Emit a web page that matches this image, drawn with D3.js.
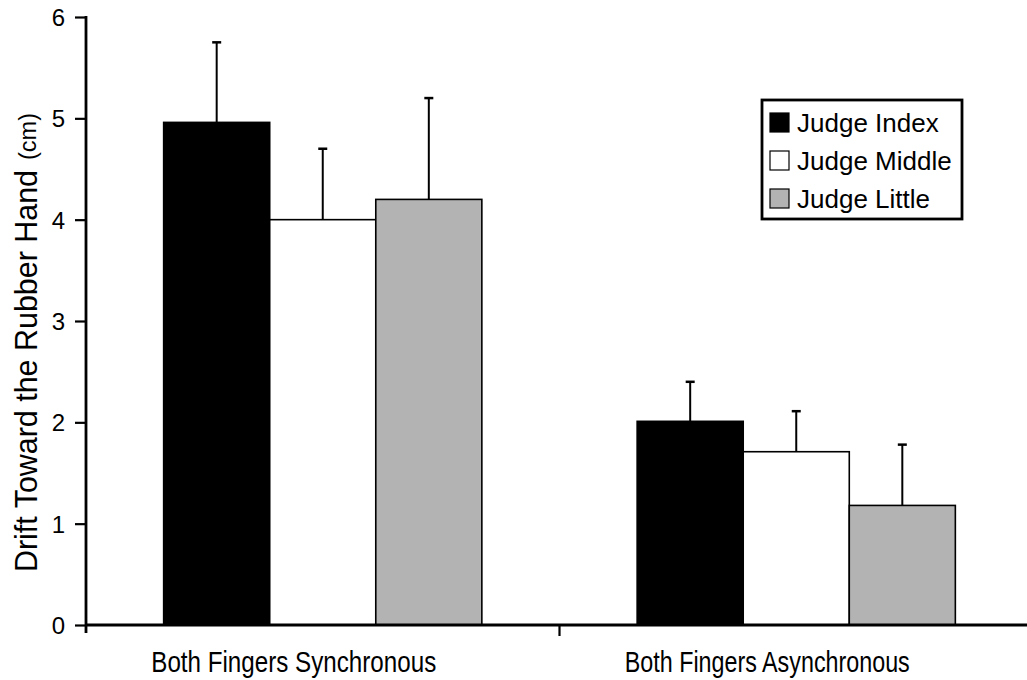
<!DOCTYPE html>
<html>
<head>
<meta charset="utf-8">
<script src="https://cdn.jsdelivr.net/npm/d3@7"></script>
<style>
  body { margin: 0; background: #fff; }
  text { font-family: "Liberation Sans", Arial, Helvetica, sans-serif; fill: #000; }
</style>
</head>
<body>
<div id="chart"></div>
<script>
// data
var categories = ["Both Fingers Synchronous", "Both Fingers Asynchronous"];
var series = ["Judge Index", "Judge Middle", "Judge Little"];
var means = [[4.96, 4.0, 4.2], [2.01, 1.71, 1.18]];
var errors = [[0.79, 0.7, 1.0], [0.39, 0.4, 0.6]];
var yTicks = [0, 1, 2, 3, 4, 5, 6];
var fills = ["#000000", "#ffffff", "#b3b3b3"];

var svg = d3.select("#chart").append("svg").attr("width", 1027).attr("height", 680),
    margin = {top: 17, right: -6, bottom: 55, left: 86},
    width = 1027 - margin.left - margin.right,
    height = 680 - margin.top - margin.bottom;

var g = svg.append("g").attr("transform", "translate(" + margin.left + "," + margin.top + ")");

var x0 = d3.scaleBand().domain(categories).range([0, width]);
var x1 = d3.scaleBand().domain(series).range([0, x0.bandwidth() * 0.672]);
var groupOffset = (x0.bandwidth() - x1.range()[1]) / 2;
var y = d3.scaleLinear().domain([0, 6]).range([height, 0]);

// bars
var groups = g.selectAll(".grp").data(categories).enter().append("g")
    .attr("class", "grp")
    .attr("transform", function(d) { return "translate(" + (x0(d) + groupOffset) + ",0)"; });

groups.each(function(cat, ci) {
    var grp = d3.select(this);
    var rows = series.map(function(s, si) { return {s: s, v: means[ci][si], e: errors[ci][si], i: si}; });
    grp.selectAll("rect").data(rows).enter().append("rect")
        .attr("x", function(d) { return x1(d.s); })
        .attr("y", function(d) { return y(d.v); })
        .attr("width", x1.bandwidth())
        .attr("height", function(d) { return height - y(d.v); })
        .attr("fill", function(d) { return fills[d.i]; })
        .attr("stroke", "#000").attr("stroke-width", 1.6);
    // error bars (upper only)
    grp.selectAll(".err").data(rows).enter().append("line")
        .attr("class", "err")
        .attr("x1", function(d) { return x1(d.s) + x1.bandwidth() / 2; })
        .attr("x2", function(d) { return x1(d.s) + x1.bandwidth() / 2; })
        .attr("y1", function(d) { return y(d.v); })
        .attr("y2", function(d) { return y(d.v + d.e); })
        .attr("stroke", "#000").attr("stroke-width", 2);
    grp.selectAll(".cap").data(rows).enter().append("line")
        .attr("class", "cap")
        .attr("x1", function(d) { return x1(d.s) + x1.bandwidth() / 2 - 4.5; })
        .attr("x2", function(d) { return x1(d.s) + x1.bandwidth() / 2 + 4.5; })
        .attr("y1", function(d) { return y(d.v + d.e); })
        .attr("y2", function(d) { return y(d.v + d.e); })
        .attr("stroke", "#000").attr("stroke-width", 2.5);
});

// y axis
var yAxis = d3.axisLeft(y).tickValues(yTicks).tickFormat(d3.format("d"))
    .tickSize(11).tickPadding(10).tickSizeOuter(0);
var ya = g.append("g").call(yAxis);
ya.attr("font-size", null).attr("font-family", null);
ya.select(".domain").attr("stroke-width", 2.8).attr("d", "M0,-1V" + (height + 8));
ya.selectAll(".tick line").attr("stroke-width", 2.2);
ya.selectAll(".tick text").style("font-size", "24px").attr("dy", "0.35em");

// x axis
var xa = g.append("g").attr("transform", "translate(0," + height + ")");
xa.append("line").attr("x1", 0).attr("x2", width).attr("stroke", "#000").attr("stroke-width", 2.8);
xa.append("line").attr("x1", x0(categories[1])).attr("x2", x0(categories[1]))
    .attr("y1", 0).attr("y2", 11).attr("stroke", "#000").attr("stroke-width", 2.2);
// labels sit a little left of the bar groups in the original
xa.selectAll(".cat").data(categories).enter().append("text")
    .attr("class", "cat")
    .attr("x", function(d) { return x0(d) + x0.bandwidth() / 2 - 29; })
    .attr("y", 47)
    .attr("text-anchor", "middle")
    .attr("textLength", 285)
    .attr("lengthAdjust", "spacingAndGlyphs")
    .style("font-size", "30px")
    .text(function(d) { return d; });

// y title
svg.append("text")
    .attr("transform", "translate(37,572) rotate(-90)")
    .attr("text-anchor", "start")
    .attr("textLength", 402)
    .attr("lengthAdjust", "spacingAndGlyphs")
    .style("font-size", "31px")
    .text("Drift Toward the Rubber Hand");
svg.append("text")
    .attr("transform", "translate(36,160) rotate(-90)")
    .attr("text-anchor", "start")
    .attr("textLength", 47)
    .attr("lengthAdjust", "spacingAndGlyphs")
    .style("font-size", "23px")
    .text("(cm)");

// legend
var legend = svg.append("g").attr("transform", "translate(762,100)");
legend.append("rect").attr("width", 200).attr("height", 119)
    .attr("fill", "#fff").attr("stroke", "#000").attr("stroke-width", 2.8);
var li = legend.selectAll(".li").data(series).enter().append("g")
    .attr("transform", function(d, i) { return "translate(8," + (13 + i * 38) + ")"; });
li.append("rect").attr("width", 19).attr("height", 19)
    .attr("fill", function(d, i) { return fills[i]; })
    .attr("stroke", "#000").attr("stroke-width", 1.2);
li.append("text").attr("x", 27).attr("y", 10).attr("dy", "0.36em")
    .style("font-size", "26px")
    .text(function(d) { return d; });
</script>
</body>
</html>
